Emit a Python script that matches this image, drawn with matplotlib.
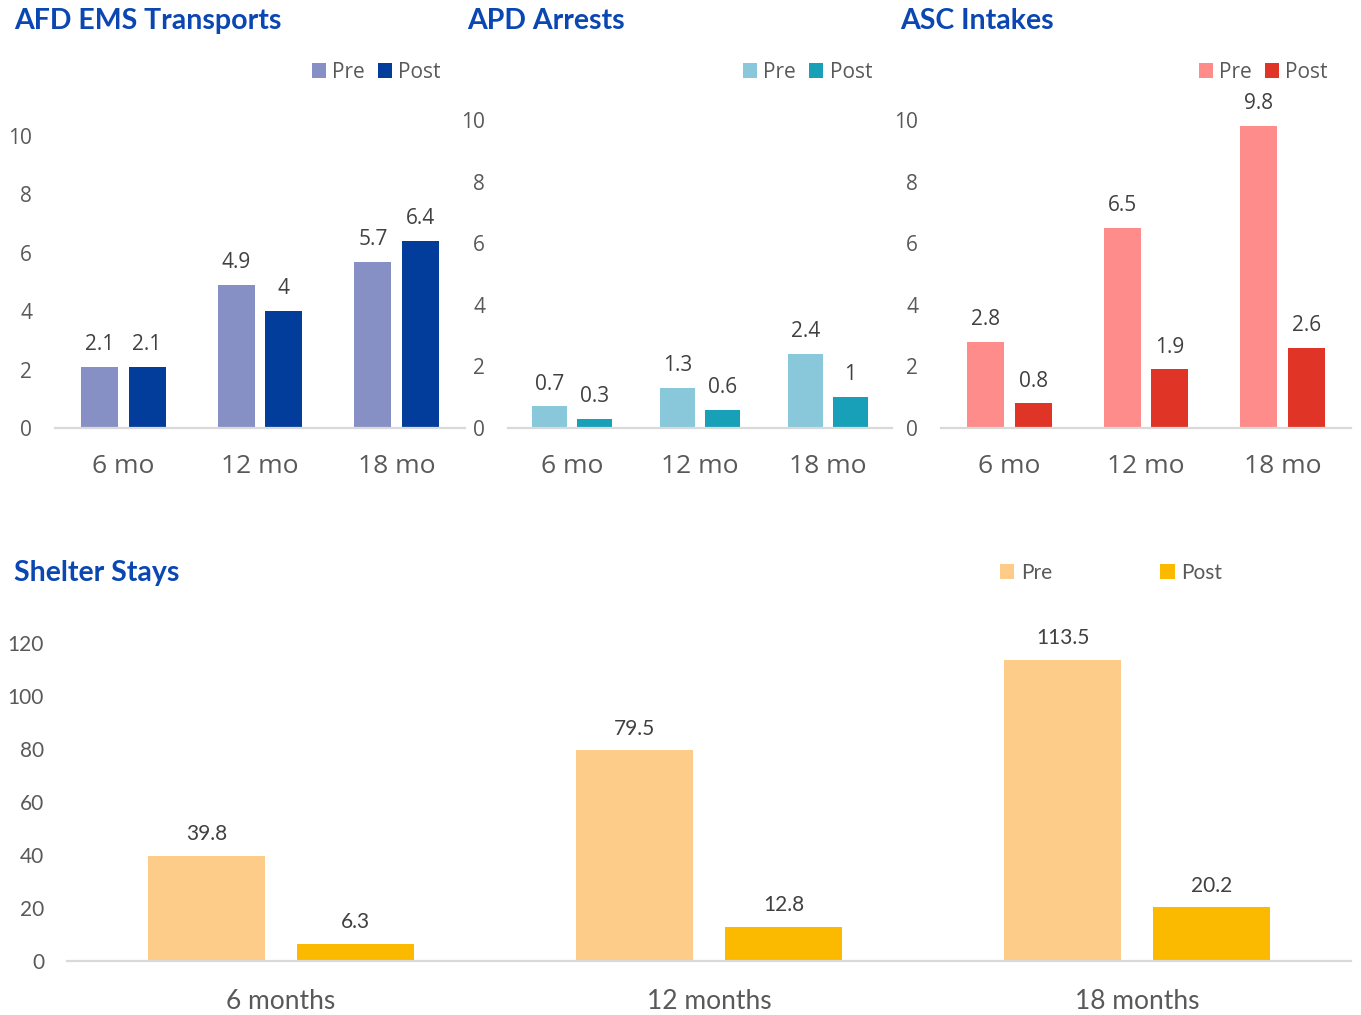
import matplotlib
matplotlib.use("Agg")
import matplotlib.pyplot as plt
import numpy as np

# data
short_cats = ["6 mo", "12 mo", "18 mo"]
long_cats = ["6 months", "12 months", "18 months"]

afd_pre = [2.1, 4.9, 5.7]
afd_post = [2.1, 4.0, 6.4]
apd_pre = [0.7, 1.3, 2.4]
apd_post = [0.3, 0.6, 1.0]
asc_pre = [2.8, 6.5, 9.8]
asc_post = [0.8, 1.9, 2.6]
shelter_pre = [39.8, 79.5, 113.5]
shelter_post = [6.3, 12.8, 20.2]

W, H = 1361, 1015
fig = plt.figure(figsize=(W / 100, H / 100), dpi=100)

TITLE_COLOR = "#0B47B2"
TICK_COLOR = "#595959"
LABEL_COLOR = "#404040"
TOP_FONT = ["Open Sans", "DejaVu Sans"]
BOTTOM_FONT = ["Lato", "DejaVu Sans"]


def px_axes(left, top, right, bottom):
    return fig.add_axes([left / W, 1 - bottom / H, (right - left) / W, (bottom - top) / H])


def fmt(v):
    return f"{v:g}"


def panel(ax, cats, pre, post, colors, ymax, yticks, font, cat_size, cat_pad):
    x = np.arange(len(cats))
    width = 0.272
    off = 0.174
    b1 = ax.bar(x - off, pre, width, color=colors[0], label="Pre")
    b2 = ax.bar(x + off, post, width, color=colors[1], label="Post")
    for bars, vals in ((b1, pre), (b2, post)):
        ax.bar_label(bars, labels=[fmt(v) for v in vals], padding=8.5,
                     fontsize=15, color=LABEL_COLOR, family=font)
    ax.set_xlim(-0.5, len(cats) - 0.5)
    ax.set_ylim(0, ymax)
    ax.set_yticks(yticks)
    ax.set_xticks(x)
    ax.set_xticklabels(cats)
    for s in ("top", "right", "left"):
        ax.spines[s].set_visible(False)
    ax.spines["bottom"].set_color("#D9D9D9")
    ax.spines["bottom"].set_linewidth(1.6)
    ax.tick_params(axis="y", length=0, pad=16.5, labelsize=15, labelcolor=TICK_COLOR)
    ax.tick_params(axis="x", length=0, pad=cat_pad, labelsize=cat_size, labelcolor=TICK_COLOR)
    for lab in ax.get_xticklabels() + ax.get_yticklabels():
        lab.set_family(font)
    return b1, b2


def legend(handles, right_px, y_px, font, colspace):
    fig.legend(handles, ["Pre", "Post"], loc="center right",
               bbox_to_anchor=(right_px / W, 1 - y_px / H), ncol=2, frameon=False,
               handlelength=0.7, handleheight=0.7, handletextpad=0.3,
               columnspacing=colspace, borderpad=0, borderaxespad=0,
               prop={"family": font, "size": 15}, labelcolor=TICK_COLOR)


def title(text, x_px, y_px, size):
    fig.text(x_px / W, 1 - y_px / H, text, ha="left", va="center",
             fontsize=size, fontweight="bold", color=TITLE_COLOR, family=BOTTOM_FONT)


ax1 = px_axes(55, 136, 465, 428)
h = panel(ax1, short_cats, afd_pre, afd_post, ["#8690C5", "#023D9B"], 10,
          [0, 2, 4, 6, 8, 10], TOP_FONT, 19, 19)
legend(h, 441, 72, TOP_FONT, 0.6)
title("AFD EMS Transports", 14, 21, 20.5)

ax2 = px_axes(508, 120, 892, 428)
h = panel(ax2, short_cats, apd_pre, apd_post, ["#88C8DA", "#17A0B7"], 10,
          [0, 2, 4, 6, 8, 10], TOP_FONT, 19, 19)
legend(h, 872, 72, TOP_FONT, 0.6)
title("APD Arrests", 467, 21, 20.5)

ax3 = px_axes(941, 120, 1351, 428)
h = panel(ax3, short_cats, asc_pre, asc_post, ["#FD8C8A", "#E03427"], 10,
          [0, 2, 4, 6, 8, 10], TOP_FONT, 19, 19)
legend(h, 1328, 72, TOP_FONT, 0.6)
title("ASC Intakes", 900, 21, 20.5)

ax4 = px_axes(67, 643, 1351, 961)
h = panel(ax4, long_cats, shelter_pre, shelter_post, ["#FCCC88", "#FBBA00"], 120,
          [0, 20, 40, 60, 80, 100, 120], BOTTOM_FONT, 19, 20)
legend(h, 1222, 573, BOTTOM_FONT, 5.2)
title("Shelter Stays", 14, 573, 20.5)

fig.savefig("out.png", dpi=100)
